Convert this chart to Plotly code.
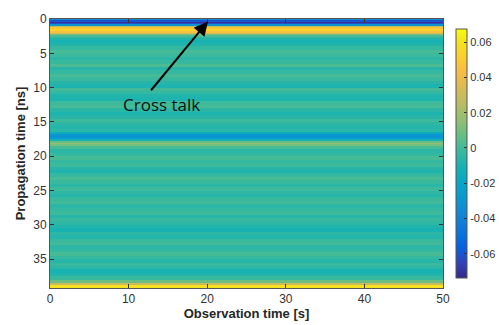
import numpy as np
import plotly.graph_objects as go

# Observation window (s) - the stripes are constant along observation time
obs_time_edges_s = [0, 50]

# Propagation-time grid (row edges, ns): fine near the surface and the 17 ns reflector
prop_time_edges_ns = np.concatenate([
    np.arange(0, 3.0, 0.2),
    np.arange(3.0, 16.5, 0.5),
    np.arange(16.5, 18.5, 0.25),
    np.arange(18.5, 38.5, 0.5),
    [38.5, 38.8, 39.2],
])

# Amplitude of each propagation-time row
amplitude = [
    # 0 - 3 ns (cross talk / direct wave)
    -0.035, -0.060, -0.070, -0.062, -0.030, 0.025, 0.047, 0.053,
    0.053, 0.045, 0.030, 0.012, 0.002, -0.004, -0.008,
    # 3 - 16.5 ns
    -0.010, -0.008, -0.003, 0.001, -0.001, -0.005, -0.002, 0.002, -0.006,
    -0.003, 0.001, -0.002, -0.006, -0.009, 0.000, -0.003, -0.008, -0.009,
    -0.001, 0.001, -0.005, -0.009, -0.006, -0.001, -0.004, -0.007, -0.005,
    # 16.5 - 18.5 ns
    -0.016, -0.030, -0.033, -0.027, -0.012, 0.008, 0.015, 0.010,
    # 18.5 - 38.5 ns
    0.001, -0.005, -0.003, 0.001, -0.003, -0.001, -0.006, -0.009, -0.003, 0.001,
    -0.002, -0.005, -0.001, -0.004, -0.007, -0.002, 0.000, -0.005, -0.003, -0.001,
    -0.006, -0.002, -0.004, -0.008, -0.010, -0.005, -0.007, -0.002, 0.000, -0.005,
    -0.003, 0.001, -0.003, -0.006, -0.002, -0.005, -0.010, -0.008, -0.002, 0.008,
    # 38.5 - 39.2 ns
    0.030, 0.060,
]
assert len(amplitude) == len(prop_time_edges_ns) - 1

x_ticks = [0, 10, 20, 30, 40, 50]
y_ticks = [0, 5, 10, 15, 20, 25, 30, 35]
cbar_ticks = [-0.06, -0.04, -0.02, 0, 0.02, 0.04, 0.06]
cbar_labels = ["-0.06", "-0.04", "-0.02", "0", "0.02", "0.04", "0.06"]

# MATLAB parula colormap (sampled)
parula_rgb = [
    (0.2081, 0.1663, 0.5292), (0.1959, 0.2645, 0.7279), (0.0117, 0.3875, 0.8820),
    (0.0498, 0.4586, 0.8641), (0.0793, 0.5200, 0.8312), (0.0343, 0.5966, 0.8199),
    (0.0228, 0.6535, 0.7768), (0.0843, 0.6928, 0.7062), (0.2178, 0.7250, 0.6193),
    (0.3953, 0.7459, 0.5244), (0.5709, 0.7485, 0.4494), (0.7184, 0.7411, 0.3905),
    (0.8507, 0.7299, 0.3360), (0.9739, 0.7314, 0.2666), (0.9880, 0.8066, 0.1794),
    (0.9589, 0.8949, 0.1132), (0.9763, 0.9831, 0.0538),
]
parula_pos = [i / 63 for i in range(0, 64, 4)] + [1.0]
parula = [
    [p, "rgb(%d,%d,%d)" % tuple(round(c * 255) for c in rgb)]
    for p, rgb in zip(parula_pos, parula_rgb)
]

z = [[v] for v in amplitude]

fig = go.Figure()
fig.add_trace(go.Heatmap(
    x=obs_time_edges_s,
    y=prop_time_edges_ns,
    z=z,
    colorscale=parula,
    zmin=-0.0737,
    zmax=0.0674,
    hoverinfo="skip",
    colorbar=dict(
        thickness=11,
        lenmode="pixels",
        len=269,
        y=0.5,
        yanchor="middle",
        x=1.033,
        xanchor="left",
        xpad=0,
        outlinewidth=1,
        outlinecolor="#555555",
        tickvals=cbar_ticks,
        ticktext=cbar_labels,
        ticks="inside",
        ticklen=3,
        tickcolor="#333333",
        tickfont=dict(family="Liberation Sans", size=11, color="#333333"),
    ),
))

# Cross-talk arrow and label
fig.add_annotation(
    x=20.1, y=0.35, ax=12.7, ay=10.6,
    xref="x", yref="y", axref="x", ayref="y",
    text="", showarrow=True, arrowhead=2, arrowsize=1.4,
    arrowwidth=2, arrowcolor="black", standoff=0,
)
fig.add_annotation(
    x=14.2, y=12.5, xref="x", yref="y",
    text="Cross talk", showarrow=False,
    font=dict(family="Open Sans", size=17, color="#111111"),
)

axis_common = dict(
    showgrid=False,
    zeroline=False,
    ticks="inside",
    ticklen=4,
    tickcolor="#333333",
    showline=True,
    linecolor="#555555",
    linewidth=1,
    mirror="ticks",
    tickfont=dict(family="Liberation Sans", size=12, color="#333333"),
)

fig.update_xaxes(
    range=[0, 50],
    tickvals=x_ticks,
    title=dict(text="<b>Observation time [s]</b>", standoff=0,
               font=dict(family="Liberation Sans", size=13, color="#262626")),
    **axis_common,
)
fig.update_yaxes(
    range=[39.2, 0],
    tickvals=y_ticks,
    title=dict(text="<b>Propagation time [ns]</b>", standoff=4,
               font=dict(family="Liberation Sans", size=13, color="#262626")),
    **axis_common,
)

fig.update_layout(
    width=499,
    height=325,
    margin=dict(l=50, r=56, t=19, b=37, autoexpand=False),
    paper_bgcolor="white",
    plot_bgcolor="white",
)

fig.write_html("out.html")
